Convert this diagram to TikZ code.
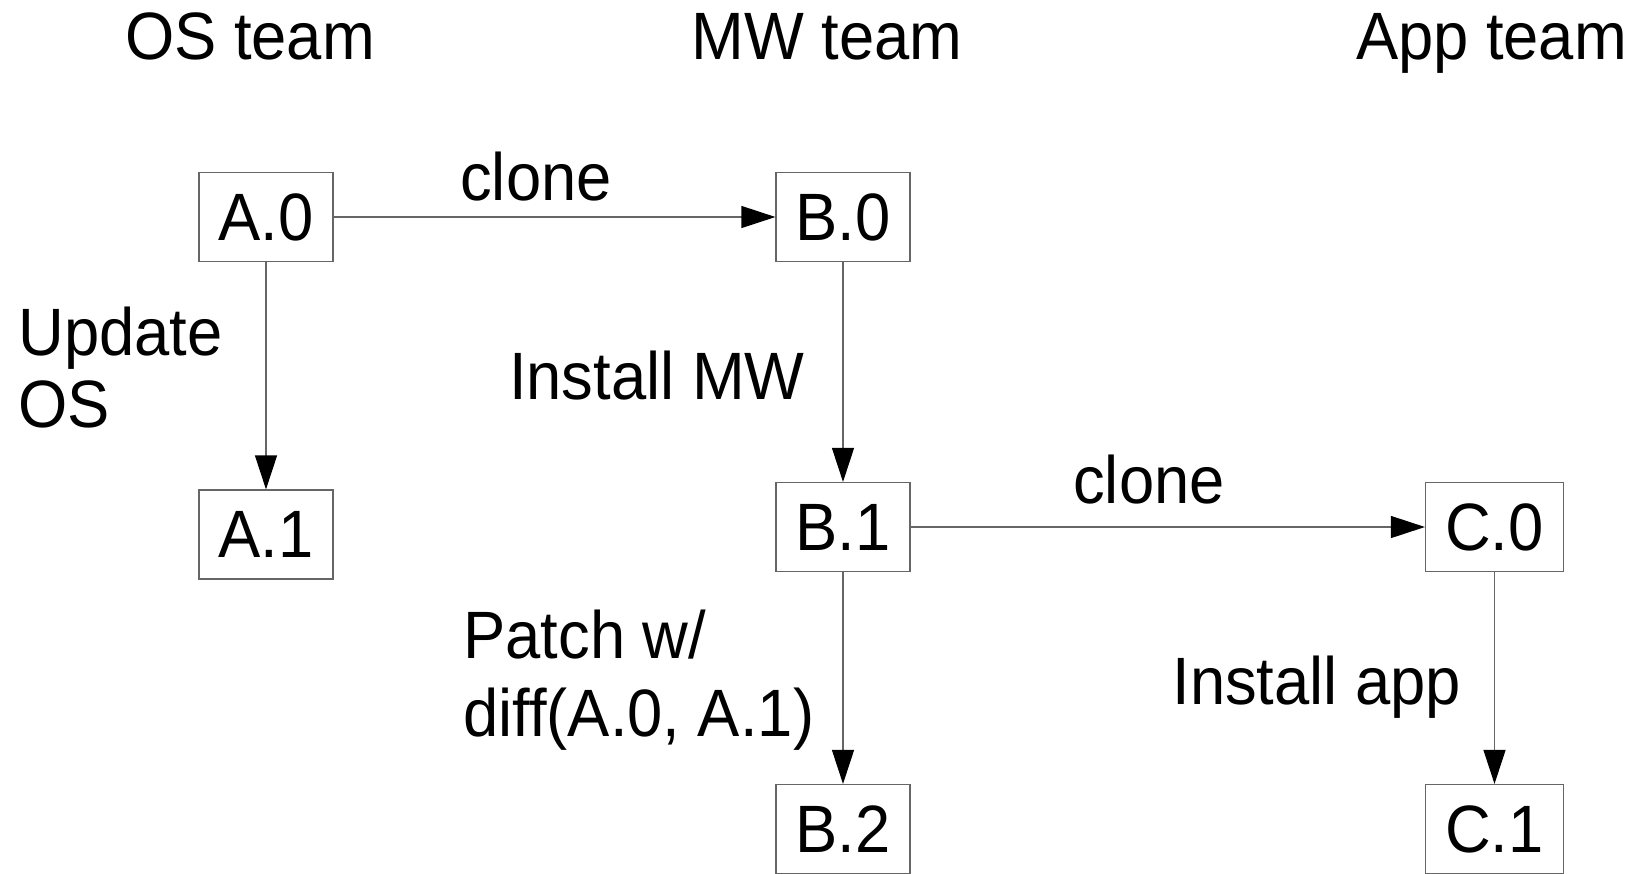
\documentclass[tikz,border=0pt]{standalone}
\usepackage{fontspec}
\setmainfont{Liberation Sans}[FakeStretch=0.945]
\usetikzlibrary{arrows.meta,positioning}

\tikzset{
  snap/.style={draw=black!60, line width=0.6pt, minimum width=67pt, minimum height=44.5pt, inner sep=0pt},
  flow/.style={draw=black!60, line width=0.6pt, -{Triangle[length=17pt,width=11pt,black]}},
  lbl/.style={inner sep=0pt, anchor=base},
}

\begin{document}
\begin{tikzpicture}[x=0.5pt, y=-0.5pt, font=\fontsize{33.5}{36}\selectfont]
  \useasboundingbox (0,0) rectangle (1633,873);

  % Team headers
  \node[lbl] (osteam) at (250,59) {OS team};
  \node[lbl] (mwteam) at (827,59) {MW team};
  \node[lbl] (appteam) at (1491.5,59) {App team};

  % Image snapshots
  \node[snap] (a0) at (266,217) {A.0};
  \node[snap] (a1) at (266,534.5) {A.1};
  \node[snap] (b0) at (843,217) {B.0};
  \node[snap] (b1) at (843,527) {B.1};
  \node[snap] (b2) at (843,829) {B.2};
  \node[snap, minimum width=69pt] (c0) at (1494.5,527) {C.0};
  \node[snap, minimum width=69pt] (c1) at (1494.5,829) {C.1};

  % Derivations
  \draw[flow] (a0) -- (b0);
  \draw[flow] (a0) -- (a1);
  \draw[flow] (b0) -- (b1);
  \draw[flow] (b1) -- (c0);
  \draw[flow] (b1) -- (b2);
  \draw[flow] (c0) -- (c1);

  % Step labels (base of a two-line label is its last line)
  \node[lbl] (clonemw) at (536,200) {clone};
  \node[lbl] (cloneapp) at (1149,503) {clone};
  \node[lbl, anchor=base west, align=left] (updos) at (18,427) {Update\\OS};
  \node[lbl, anchor=base east] (instmw) at (805,399) {Install MW};
  \node[lbl, anchor=base west, align=left] (patch) at (463,736) {Patch w/\\[3pt]diff(A.0, A.1)};
  \node[lbl, anchor=base west] (instapp) at (1172,704) {Install app};
\end{tikzpicture}
\end{document}
